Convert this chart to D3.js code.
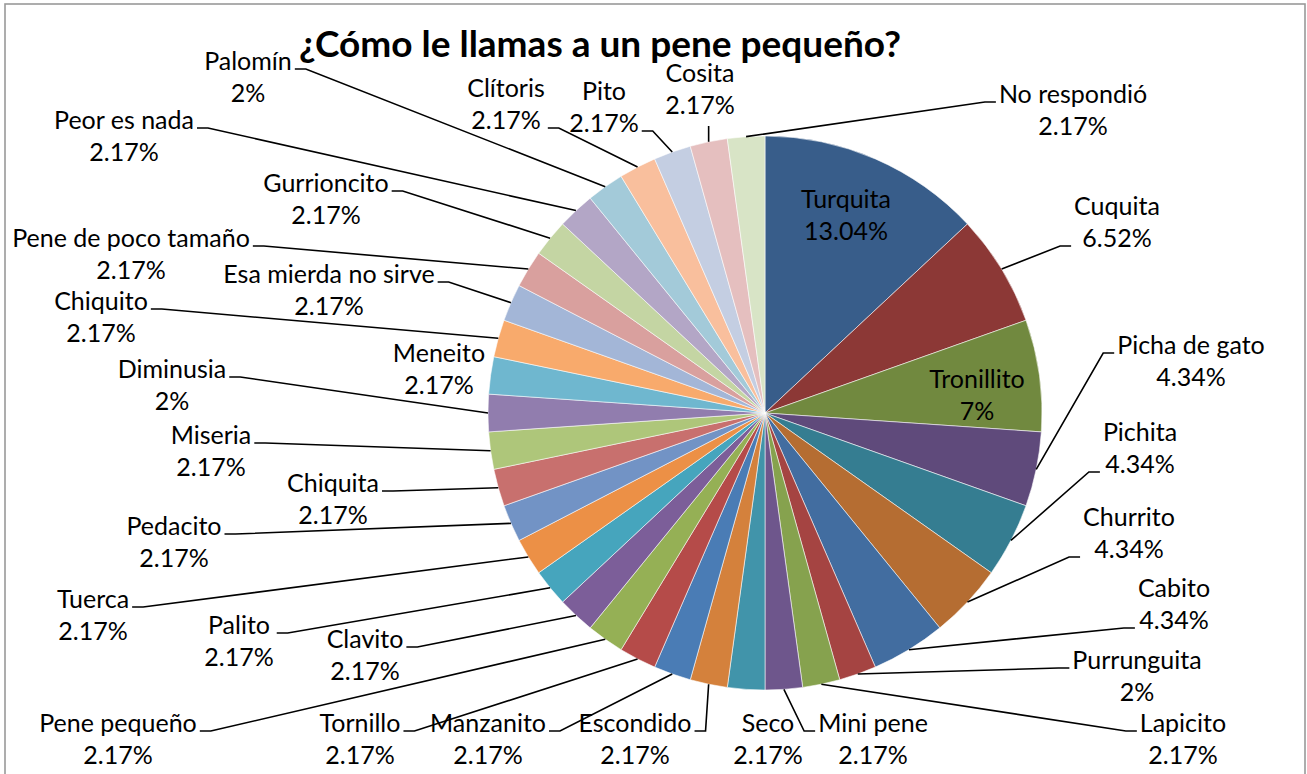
<!DOCTYPE html>
<html>
<head>
<meta charset="utf-8">
<script src="https://cdn.jsdelivr.net/npm/d3@7"></script>
<style>
  body { margin: 0; background: #fff; }
  text { font-family: Lato, "Open Sans", sans-serif; fill: #000; }
</style>
</head>
<body>
<svg width="1307" height="774"></svg>
<script>
// answers, clockwise from 12 o'clock
var names = ['Turquita', 'Cuquita', 'Tronillito', 'Picha de gato', 'Pichita', 'Churrito', 'Cabito',
  'Purrunguita', 'Lapicito', 'Mini pene', 'Seco', 'Escondido', 'Manzanito', 'Tornillo', 'Pene pequeño',
  'Clavito', 'Palito', 'Tuerca', 'Pedacito', 'Chiquita', 'Miseria', 'Diminusia', 'Meneito', 'Chiquito',
  'Esa mierda no sirve', 'Pene de poco tamaño', 'Gurrioncito', 'Peor es nada', 'Palomín', 'Clítoris',
  'Pito', 'Cosita', 'No respondió'];
// number of people (46 total)
var counts = [6, 3, 3, 2, 2, 2, 2, 1, 1, 1, 1, 1, 1, 1, 1, 1, 1, 1, 1, 1, 1, 1, 1, 1, 1, 1, 1, 1, 1, 1, 1, 1, 1];
// percentages as printed on the chart
var pctLabels = ['13.04%', '6.52%', '7%', '4.34%', '4.34%', '4.34%', '4.34%', '2%', '2.17%', '2.17%',
  '2.17%', '2.17%', '2.17%', '2.17%', '2.17%', '2.17%', '2.17%', '2.17%', '2.17%', '2.17%', '2.17%', '2%',
  '2.17%', '2.17%', '2.17%', '2.17%', '2.17%', '2.17%', '2%', '2.17%', '2.17%', '2.17%', '2.17%'];

var colors = ['#385d8a', '#8c3836', '#71893f', '#5f4a7b', '#357d91', '#b56d32',
  '#426da0', '#a54442', '#86a24e', '#6e568c', '#4194aa', '#d4813c',
  '#4a7cb5', '#b54b49', '#95b055', '#7c5e99', '#46a5bd', '#ec9046',
  '#7293c5', '#c8706e', '#aec67a', '#917dae', '#6fb7cf', '#f8aa6c',
  '#a3b6d7', '#d9a09e', '#c4d5a3', '#b3a6c6', '#a3cad9', '#f9bf9d',
  '#c4cee2', '#e5bfbf', '#d8e4c6'];

// label placement: [centre x, first baseline, leader side, line the leader joins]
var labelPos = [[846, 208, 'in'], [1117, 215, 'l', 1], [977, 388, 'in'], [1191, 354, 'l', 0],
  [1140, 441, 'l', 1], [1129, 526, 'l', 1], [1174, 597, 'l', 1], [1137, 669, 'l', 0],
  [1183, 732, 'l', 0], [873, 732, 'l', 0], [768, 732, 'none'], [635, 732, 'r', 0],
  [488, 732, 'r', 0], [360, 732, 'r', 0], [118, 732, 'r', 0], [365, 648, 'r', 0],
  [239, 634, 'r', 0], [93, 608, 'r', 0], [174, 535, 'r', 0], [333, 492, 'r', 0],
  [211, 444, 'r', 0], [172, 378, 'r', 0], [439, 362, 'none'], [101, 310, 'r', 0],
  [329, 283, 'r', 0], [131, 247, 'r', 0], [326, 192, 'r', 0], [124, 129, 'r', 0],
  [248, 70, 'r', 0], [506, 97, 'r', 1], [604, 100, 'r', 1], [700, 82, 'b'], [1073, 103, 'l', 0]];

var svg = d3.select('svg');
var cx = 765, cy = 413, R = 277;
var fontSize = 25, lineGap = 32;

// chart border
svg.append('rect')
  .attr('x', 5).attr('y', 4)
  .attr('width', 1300).attr('height', 800)
  .attr('fill', 'none').attr('stroke', '#999').attr('stroke-width', 1.6);

svg.append('text')
  .text('¿Cómo le llamas a un pene pequeño?')
  .attr('x', 600).attr('y', 57)
  .attr('text-anchor', 'middle')
  .style('font-size', '37px').style('font-weight', 'bold');

var pie = d3.pie().sort(null).value(function(d) { return d; });
var arcs = pie(counts);
var arc = d3.arc().innerRadius(0).outerRadius(R);
var edge = d3.arc().innerRadius(R).outerRadius(R);

var g = svg.append('g').attr('transform', 'translate(' + cx + ',' + cy + ')');

g.selectAll('.slice')
  .data(arcs)
  .enter().append('path')
  .attr('class', 'slice')
  .attr('d', arc)
  .attr('fill', function(d, i) { return colors[i]; })
  .attr('stroke', '#fff')
  .attr('stroke-opacity', 0.8)
  .attr('stroke-width', 0.7);

// data labels
var labels = svg.append('g');
var leaders = svg.append('g');
arcs.forEach(function(d, i) {
  var p = labelPos[i];
  var t = labels.append('text')
    .attr('text-anchor', 'middle')
    .style('font-size', fontSize + 'px');
  t.append('tspan').attr('x', p[0]).attr('y', p[1]).text(names[i]);
  t.append('tspan').attr('x', p[0]).attr('y', p[1] + lineGap).text(pctLabels[i]);

  if (p[2] === 'in' || p[2] === 'none') return;
  var w = t.node().getBBox().width;
  var start = edge.centroid(d);
  start = [start[0] + cx, start[1] + cy];
  var pts;
  if (p[2] === 'b') {
    pts = [start, [start[0], p[1] + lineGap + 12]];
  } else {
    var y = p[1] + p[3] * lineGap - 1;
    var dir = p[2] === 'r' ? 1 : -1;
    var tip = p[0] + dir * (w / 2 + 3);
    pts = [start, [tip + dir * 11, y], [tip, y]];
  }
  leaders.append('path')
    .attr('d', d3.line()(pts))
    .attr('fill', 'none')
    .attr('stroke', '#000')
    .attr('stroke-width', 1.6);
});
</script>
</body>
</html>
